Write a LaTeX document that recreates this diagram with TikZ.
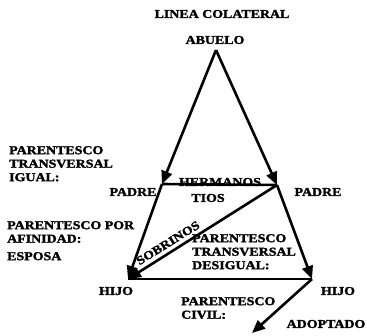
\documentclass[tikz,border=0pt]{standalone}
\usepackage{fontspec}
\usetikzlibrary{arrows.meta}
\newfontfamily\labfam[FakeStretch=1.16,FakeBold=2]{Liberation Serif Bold}
\newcommand\labfont{\labfam\fontsize{12}{13.5}\selectfont}
\begin{document}
\begin{tikzpicture}[x=1pt,y=-1pt,
  lbl/.style={font=\labfont, inner sep=0pt, align=left, text=black},
  conn/.style={line width=2.6pt, black},
  arr/.style={conn, -{Triangle[length=13pt,width=11pt]}},
]
\useasboundingbox (0,0) rectangle (367,335);
% junctions
\coordinate (apex) at (216,50);
\coordinate (pl) at (162,184);
\coordinate (pr) at (277,185);
\coordinate (hl) at (128,279);
\coordinate (hr) at (312,279);
\coordinate (ad) at (252,333);
% connectors
\draw[conn] (pl) -- (pr);
\draw[conn] (hl) -- (hr);
\draw[arr] (apex) -- (pl);
\draw[arr] (apex) -- (pr);
\draw[arr] (pl) -- (hl);
\draw[arr] (pr) -- (hr);
\draw[arr] (pr) -- (hl);
\draw[arr] (hr) -- (ad);
% labels
\node[lbl] (titulo) at (222,14) {LINEA COLATERAL};
\node[lbl] (abuelo) at (215,40) {ABUELO};
\node[lbl, anchor=north west] (ptig) at (9,146) {PARENTESCO\\TRANSVERSAL\\IGUAL:};
\node[lbl] (padrel) at (133,192) {PADRE};
\node[lbl] (padrer) at (318,192) {PADRE};
\node[lbl] (herm) at (220,182) {HERMANOS};
\node[lbl] (tios) at (208,198) {TIOS};
\node[lbl, anchor=north west] (afin) at (7,221) {PARENTESCO POR\\AFINIDAD:};
\node[lbl, anchor=north west] (esposa) at (7,252) {ESPOSA};
\node[lbl, rotate=32] (sobr) at (168,243) {SOBRINOS};
\node[lbl, anchor=north west] (ptdes) at (192,234) {PARENTESCO\\TRANSVERSAL\\DESIGUAL:};
\node[lbl] (hijol) at (116,291) {HIJO};
\node[lbl] (hijor) at (338,291) {HIJO};
\node[lbl, anchor=north west] (civil) at (181,297) {PARENTESCO\\CIVIL:};
\node[lbl] (adopt) at (326,324) {ADOPTADO};
\end{tikzpicture}
\end{document}
